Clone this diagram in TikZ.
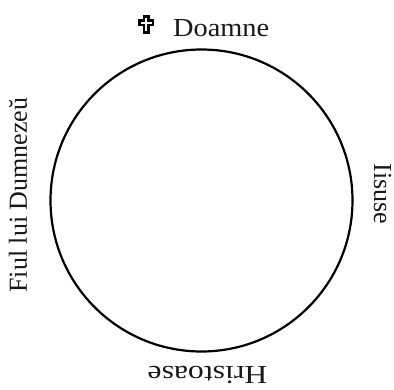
\documentclass[tikz,border=0pt]{standalone}
\usepackage{fontspec}
\setmainfont{Liberation Serif}
\begin{document}
\begin{tikzpicture}[x=1pt,y=-1pt,
  lbl/.style={font=\fontsize{26}{30}\selectfont, inner sep=0pt, text=black!90},
  crossmark/.style={draw=black, fill=white, line width=2.6pt, line join=miter}]
\useasboundingbox (0,0) rectangle (394,389);
\node[draw=black, line width=2.2pt, circle, minimum size=302pt, inner sep=0pt] (c) at (201.5,200.5) {};
\node[lbl, anchor=base west, xscale=1.09] (top) at (173,36) {Doamne};
\coordinate (cr) at (146,16.5);
\draw[crossmark] ([shift={(-2.2,0)}]cr) -- ++(4.4,0) -- ++(0,4.2) -- ++(4.6,0) -- ++(0,4.2) -- ++(-4.6,0)
  -- ++(0,7.6) -- ++(-4.4,0) -- ++(0,-7.6) -- ++(-4.6,0) -- ++(0,-4.2) -- ++(4.6,0) -- cycle;
\node[lbl, rotate=90, anchor=base] (left) at (27,195) {Fiul lui Dumnezeŭ};
\node[lbl, rotate=-90, anchor=base] (right) at (374,194) {Iisuse};
\node[lbl, rotate=180, anchor=base, xscale=1.22] (bottom) at (207.5,366) {Hristoase};
\end{tikzpicture}
\end{document}
